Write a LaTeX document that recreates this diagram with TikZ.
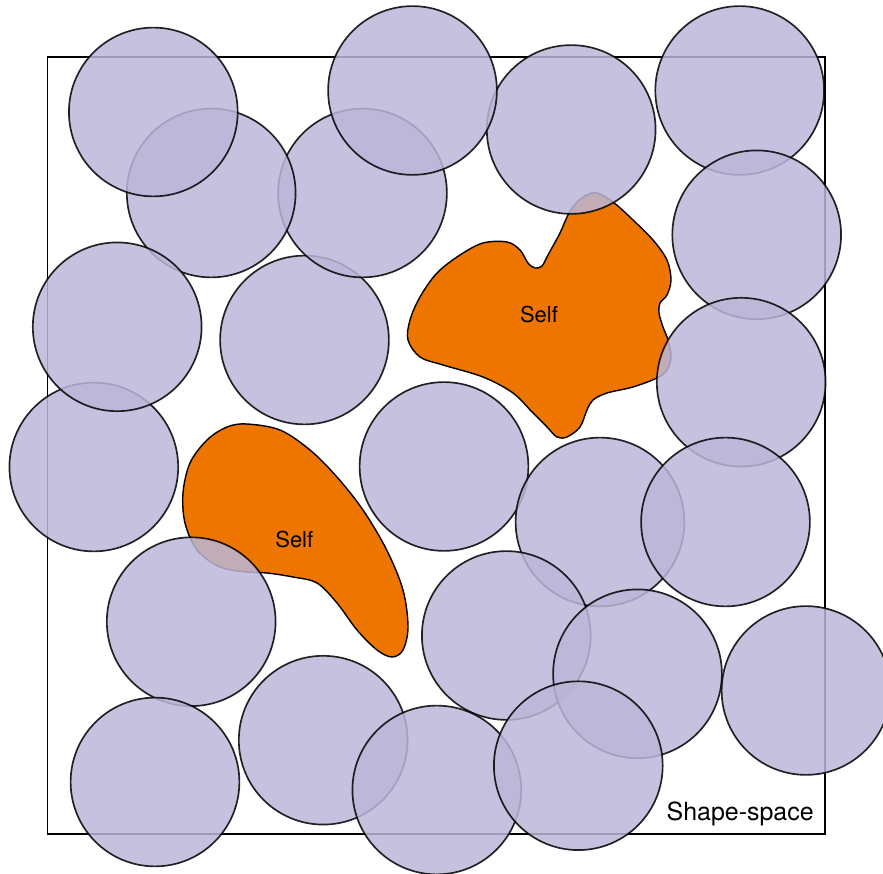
\documentclass[tikz,border=0pt]{standalone}
\usepackage{fontspec}
\setmainfont{TeX Gyre Heros}
\definecolor{cellfill}{RGB}{187,182,216}
\definecolor{selforange}{RGB}{238,118,0}

\begin{document}
\begin{tikzpicture}[x=0.02cm, y=-0.02cm, cell/.style={draw=black, fill=cellfill, opacity=0.85, line width=0.95pt}, selfblob/.style={draw=black, fill=selforange, line width=0.8pt}, lbl/.style={inner sep=0pt, anchor=base, font=\fontsize{12.5}{15}\selectfont}]
\useasboundingbox (0,0) rectangle (883,874);
\draw[line width=0.8pt] (47.5,57) rectangle (825,834);
% self regions
\draw[selfblob] plot[smooth cycle, tension=0.55] coordinates {(597,193) (613,202) (633,220) (653,240) (667,260) (671,280) (667,295) (660,303) (659,313) (663,327) (668,340) (671,357) (667,370) (657,378) (633,387) (607,393) (593,400) (587,410) (580,427) (567,437) (557,437) (547,427) (533,413) (513,393) (483,377) (443,365) (420,357) (408,340) (410,320) (420,297) (437,273) (460,255) (483,243) (507,242) (520,250) (528,263) (535,268) (542,266) (548,255) (560,233) (568,215) (577,202) (587,195)};
\draw[selfblob] plot[smooth cycle, tension=0.55] coordinates {(246.7,424) (280,430) (310,450) (336.7,476.7) (363,510) (386.7,550) (403,590) (408,627) (403,650) (392,657) (377,650) (357,630) (337,603) (317,583) (293,577) (267,573) (247,572) (220,567) (197,550) (185,523) (183,493) (190,463) (207,440) (227,427)};
% receptor circles
\foreach \cx/\cy in {304.5/340, 362.5/193, 211.2/193, 153.3/112, 93.8/467, 117.2/326.8, 571.2/129.5, 412.5/90.5, 739.7/90.5, 756.7/234.8, 741.2/382.2, 444/466.5, 600/522, 725.5/522, 506.3/635.5, 637.5/673.8, 191.2/621.7, 155/782, 323.2/740.2, 436.8/790, 578.3/765.7, 806/690.5}
  \draw[cell] (\cx,\cy) circle[radius=1.688cm];
\node[lbl] (selfup) at (539,322.7) {Self};
\node[lbl] (selflow) at (294.3,547.3) {Self};
\node[lbl, anchor=base east, font=\fontsize{14.2}{17}\selectfont] (space) at (814,820.7) {Shape-space};
\end{tikzpicture}
\end{document}
